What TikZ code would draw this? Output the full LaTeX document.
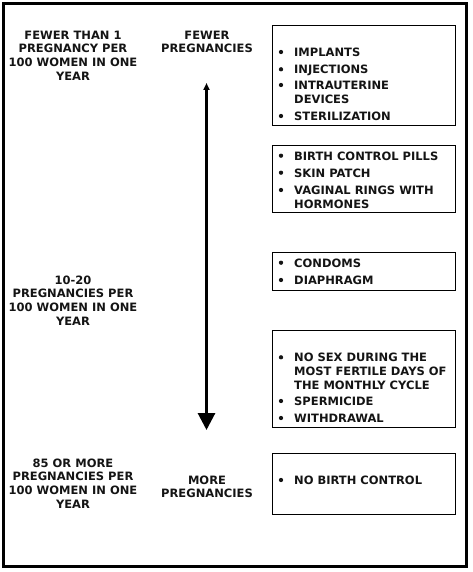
\documentclass[tikz,border=0pt]{standalone}
\usepackage{fontspec}
\setmainfont{DejaVu Sans}
\usetikzlibrary{arrows.meta}
\tikzset{
  txt/.style={font=\fontsize{11.5}{13.7}\selectfont\bfseries, text=black!92, inner sep=0pt, align=center},
  itm/.style={font=\fontsize{11.5}{14}\selectfont\bfseries, text=black!92, inner sep=0pt, align=left, anchor=north west},
  bul/.style={circle, fill=black!92, inner sep=0pt, minimum size=4.3pt},
  listbox/.style={draw=black, line width=1pt},
  frame/.style={draw=black, line width=3pt}
}
\newcommand{\listitem}[3]{% name, y-baseline of first line, text
  \node[itm] (#1) at (294,#2-8.4) {#3};
  \node[bul] (#1b) at (281,#2-4) {};
}
\begin{document}
\begin{tikzpicture}[x=1pt,y=-1pt]
\useasboundingbox (0,0) rectangle (473,572);
\draw[frame] (3.5,4) rectangle (466.5,566.5);
% boxes
\node[listbox, minimum width=183pt, minimum height=100pt, anchor=north west] (b1) at (272,25) {};
\node[listbox, minimum width=183pt, minimum height=67pt, anchor=north west] (b2) at (272,145) {};
\node[listbox, minimum width=183pt, minimum height=38pt, anchor=north west] (b3) at (272,252) {};
\node[listbox, minimum width=183pt, minimum height=97pt, anchor=north west] (b4) at (272,330) {};
\node[listbox, minimum width=183pt, minimum height=61pt, anchor=north west] (b5) at (272,452.5) {};
% left texts
\node[txt, anchor=north] (l1) at (73,30.5) {FEWER THAN 1\\PREGNANCY PER\\100 WOMEN IN ONE\\YEAR};
\node[txt, anchor=north] (l2) at (73,275.5) {10-20\\PREGNANCIES PER\\100 WOMEN IN ONE\\YEAR};
\node[txt, anchor=north] (l3) at (73,458.5) {85 OR MORE\\PREGNANCIES PER\\100 WOMEN IN ONE\\YEAR};
\node[txt, anchor=north] (m1) at (207,30.5) {FEWER\\PREGNANCIES};
\node[txt, anchor=north] (m2) at (207,475.5) {MORE\\PREGNANCIES};
% arrow
\coordinate (atop) at (206.5,83);
\coordinate (abot) at (206.5,430);
\draw[line width=3pt, {Triangle[width=6pt,length=7pt]}-{Triangle[width=17pt,length=17pt]}] (atop) -- (abot);
% items
\listitem{i1}{56}{IMPLANTS}
\listitem{i2}{73.3}{INJECTIONS}
\listitem{i3}{89}{INTRAUTERINE\\DEVICES}
\listitem{i4}{120}{STERILIZATION}
\listitem{i5}{159.7}{BIRTH CONTROL PILLS}
\listitem{i6}{176.7}{SKIN PATCH}
\listitem{i7}{194}{VAGINAL RINGS WITH\\HORMONES}
\listitem{i8}{266.7}{CONDOMS}
\listitem{i9}{284}{DIAPHRAGM}
\listitem{i10}{361.3}{NO SEX DURING THE\\MOST FERTILE DAYS OF\\THE MONTHLY CYCLE}
\listitem{i11}{405}{SPERMICIDE}
\listitem{i12}{422}{WITHDRAWAL}
\listitem{i13}{484}{NO BIRTH CONTROL}
\end{tikzpicture}
\end{document}
